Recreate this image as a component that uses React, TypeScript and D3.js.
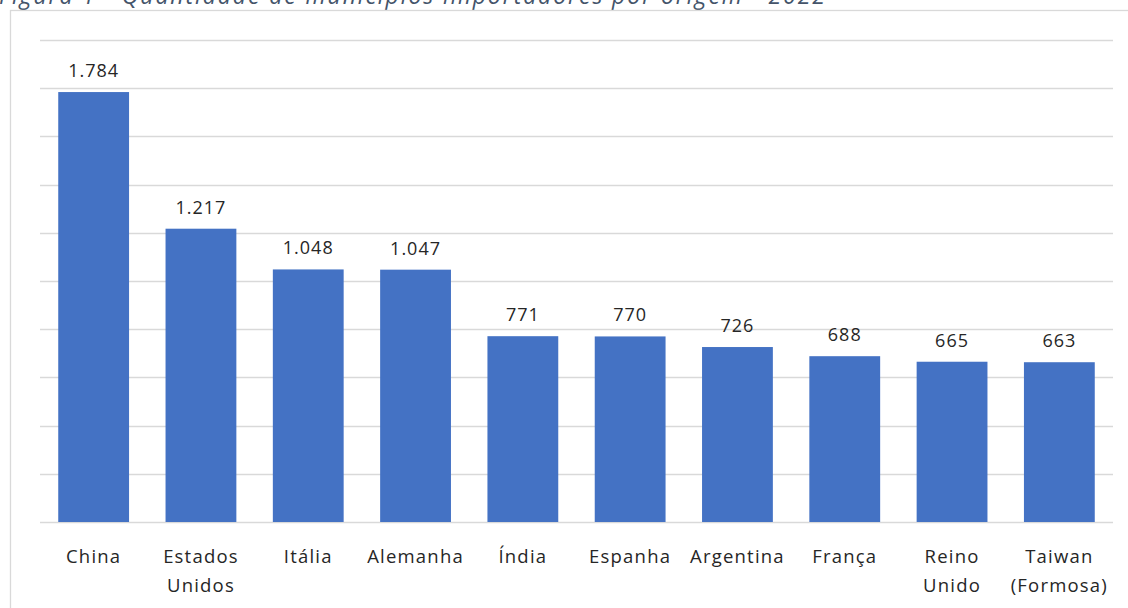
import React from "react";
import * as d3 from "d3";

const categories = [
  ["China"],
  ["Estados", "Unidos"],
  ["Itália"],
  ["Alemanha"],
  ["Índia"],
  ["Espanha"],
  ["Argentina"],
  ["França"],
  ["Reino", "Unido"],
  ["Taiwan", "(Formosa)"],
];
const values = [1784, 1217, 1048, 1047, 771, 770, 726, 688, 665, 663];
const valueLabels = ["1.784", "1.217", "1.048", "1.047", "771", "770", "726", "688", "665", "663"];
const gridTicks = [0, 200, 400, 600, 800, 1000, 1200, 1400, 1600, 1800, 2000];
const title = "Figura 1 - Quantidade de municípios importadores por origem - 2022";

const W = 1128;
const H = 608;
const FONT = "'Open Sans', Lato, sans-serif";

export default function App() {
  const x = d3
    .scaleBand<number>()
    .domain(d3.range(values.length))
    .range([40, 1113])
    .paddingInner(0.34)
    .paddingOuter(0.17);
  const y = d3.scaleLinear().domain([0, 2000]).range([522, 40]);

  return (
    <div style={{ position: "absolute", left: 0, top: 0 }}>
      <svg width={W} height={H} style={{ display: "block" }}>
        <rect x={0} y={0} width={W} height={H} fill="#fff" />
        <text x={-1} y={4} fontFamily={FONT} fontStyle="italic" fontSize={23} fill="#44546a" letterSpacing={1.9}>
          {title}
        </text>
        <rect x={10.5} y={10.5} width={W} height={H} fill="none" stroke="#d9d9d9" strokeWidth={1.3} />
        {gridTicks.map((t) => (
          <line key={t} x1={40} x2={1113} y1={Math.round(y(t)) + 0.5} y2={Math.round(y(t)) + 0.5} stroke="#d9d9d9" strokeWidth={1.3} />
        ))}
        {values.map((v, i) => (
          <rect key={i} x={x(i)} y={y(v)} width={x.bandwidth()} height={y(0) - y(v)} fill="#4472c4" />
        ))}
        {values.map((v, i) => (
          <text key={"l" + i} x={(x(i) as number) + x.bandwidth() / 2} y={y(v) - 15} textAnchor="middle" fontFamily={FONT} fontSize={18} fill="#262626" letterSpacing={1}>
            {valueLabels[i]}
          </text>
        ))}
        {categories.map((lines, i) => (
          <text key={"c" + i} x={(x(i) as number) + x.bandwidth() / 2} y={563} textAnchor="middle" fontFamily={FONT} fontSize={18.5} fill="#262626" letterSpacing={1.2}>
            {lines.map((ln, j) => (
              <tspan key={j} x={(x(i) as number) + x.bandwidth() / 2} dy={j === 0 ? 0 : 29}>
                {ln}
              </tspan>
            ))}
          </text>
        ))}
      </svg>
    </div>
  );
}
